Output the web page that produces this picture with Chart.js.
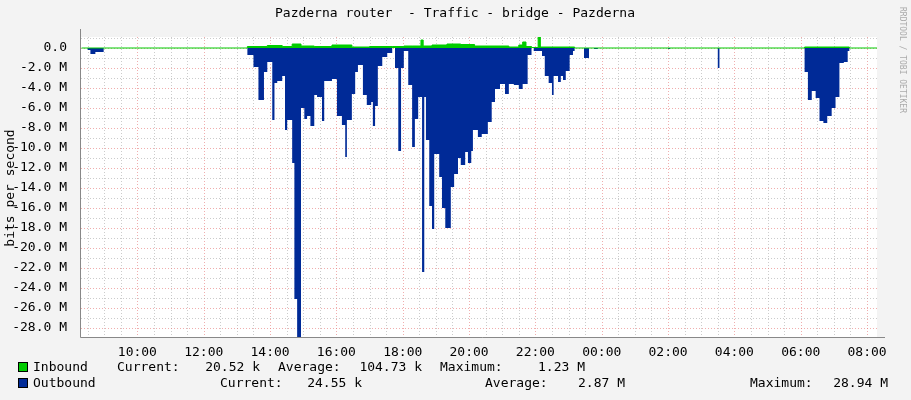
<!DOCTYPE html>
<html><head><meta charset="utf-8">
<script src="https://cdn.jsdelivr.net/npm/chart.js@4"></script>
<style>html,body{margin:0;padding:0;background:#f3f3f3}#w{width:911px;height:400px;position:relative}</style>
</head><body><div id="w"><canvas id="c" width="911" height="400"></canvas></div>
<script>
const title = "Pazderna router  - Traffic - bridge - Pazderna";
const xTickLabels = ["10:00","12:00","14:00","16:00","18:00","20:00","22:00","00:00","02:00","04:00","06:00","08:00"];
const yTickValues = [0,-2,-4,-6,-8,-10,-12,-14,-16,-18,-20,-22,-24,-26,-28];
const outTimes = ["08:19","08:30","08:35","08:44","08:59","13:19","13:30","13:39","13:49","13:55","14:04","14:08","14:13","14:22","14:27","14:31","14:40","14:44","14:49","14:56","15:02","15:07","15:13","15:20","15:25","15:34","15:38","15:52","16:01","16:10","16:16","16:19","16:28","16:34","16:39","16:48","16:55","17:03","17:06","17:10","17:15","17:23","17:32","17:41","17:46","17:52","17:57","18:02","18:10","18:17","18:22","18:28","18:35","18:39","18:42","18:48","18:53","18:57","19:06","19:11","19:17","19:27","19:33","19:40","19:45","19:53","19:58","20:04","20:07","20:16","20:23","20:34","20:41","20:47","20:56","21:05","21:12","21:21","21:30","21:37","21:46","21:53","21:57","22:12","22:17","22:24","22:30","22:33","22:41","22:46","22:50","22:55","23:02","23:08","23:11","23:28","23:37","23:46","23:53","02:00","02:04","03:30","03:33","06:07","06:13","06:20","06:27","06:34","06:41","06:48","06:56","07:03","07:10","07:18","07:25","07:28","08:19"];
const outValues = [0,-0.2,-0.6,-0.4,0,-0.7,-1.9,-5.2,-2.4,-1.4,-7.2,-3.5,-3.3,-2.8,-8.2,-7.2,-11.5,-25.1,-28.9,-6.0,-7.1,-6.8,-7.8,-4.7,-4.9,-7.3,-3.3,-3.1,-6.8,-7.7,-10.9,-7.2,-4.6,-2.4,-1.7,-4.7,-5.7,-5.4,-7.8,-5.8,-1.8,-0.9,-0.5,0,-2.0,-10.3,-2.0,-0.3,-3.7,-9.9,-7.1,-4.9,-22.4,-4.9,-9.2,-15.8,-18.1,-10.6,-12.9,-16.0,-18.0,-13.9,-12.6,-11.0,-11.7,-10.4,-11.5,-10.3,-8.2,-8.9,-8.6,-7.4,-5.4,-4.1,-3.6,-4.6,-3.6,-3.7,-4.1,-3.6,-0.7,0,-0.3,-0.8,-2.8,-3.5,-4.7,-2.8,-3.4,-2.8,-3.2,-2.3,-0.7,-0.3,0,-1.0,0,-0.1,0,-0.1,0,-2.0,0,-2.4,-5.2,-4.3,-5.0,-7.3,-7.5,-6.8,-6.0,-4.9,-1.5,-1.4,-0.3,0,0];
const inTimes = ["08:19","13:19","13:55","14:22","14:40","14:56","15:20","15:52","16:28","17:00","17:41","18:02","18:17","18:33","18:37","18:53","19:20","19:45","20:10","21:12","21:30","21:37","21:43","21:53","22:05","22:09","22:30","23:11","06:07","07:28","08:19"];
const inValues = [0,0.15,0.25,0.15,0.4,0.2,0.15,0.3,0.1,0.15,0.15,0.2,0.2,0.8,0.2,0.3,0.4,0.35,0.2,0.1,0.3,0.6,0.15,0.05,1.23,0.1,0.1,0,0.1,0,0];
const legendRows = [
 ["Inbound","Current:","20.52 k","Average:","104.73 k","Maximum:","1.23 M"],
 ["Outbound","Current:","24.55 k","Average:","2.87 M","Maximum:","28.94 M"]];

const START = 8*60+19;
function toMin(t, isEnd){const [h,m]=t.split(":").map(Number);let v=h*60+m;if(v<START||(isEnd&&v===START))v+=1440;return v;}
function series(times, vals){return times.map((t,i)=>({x:toMin(t,i===times.length-1),y:vals[i]}));}
const X0=START-1, X1=START+1439;
const FONT="'DejaVu Sans Mono', monospace";

const rrdPlugin={id:'rrd',
 beforeDraw(ch){const c=ch.ctx;c.save();c.fillStyle='#f3f3f3';c.fillRect(0,0,911,400);
  const a=ch.chartArea;c.fillStyle='#fff';c.fillRect(a.left,a.top,a.right-a.left,a.bottom-a.top);c.restore();},
 beforeDatasetsDraw(ch){const c=ch.ctx,a=ch.chartArea,xs=ch.scales.x,ys=ch.scales.y;c.save();c.lineWidth=1;c.setLineDash([1,2]);
  for(let m=600-90;m<=X1;m+=30){const px=Math.round(xs.getPixelForValue(m))+0.5;if(px<a.left||px>a.right)continue;
   c.strokeStyle=((m-600)%120===0)?'rgba(230,120,120,0.6)':'rgba(170,170,170,0.6)';c.beginPath();c.moveTo(px,a.top);c.lineTo(px,a.bottom);c.stroke();}
  for(let v=1;v>=-28;v-=1){const py=Math.round(ys.getPixelForValue(v))+0.5;
   c.strokeStyle=(v%2===0)?'rgba(230,120,120,0.6)':'rgba(170,170,170,0.6)';c.beginPath();c.moveTo(a.left,py);c.lineTo(a.right,py);c.stroke();}
  c.restore();},
 afterDraw(ch){const c=ch.ctx,a=ch.chartArea;c.save();
  c.strokeStyle='#888';c.lineWidth=1;c.beginPath();c.moveTo(a.left-0.5,a.top-8);c.lineTo(a.left-0.5,a.bottom+0.5);c.lineTo(a.right+8,a.bottom+0.5);c.stroke();
  c.fillStyle='#000';c.font="13px "+FONT;c.textAlign='center';c.textBaseline='middle';c.fillText(title,455,14);
  c.save();c.translate(11,188);c.rotate(-Math.PI/2);c.fillText('bits per second',0,0);c.restore();
  c.save();c.fillStyle='#aaa';c.font="8px "+FONT;c.translate(902,60);c.rotate(Math.PI/2);c.fillText('RRDTOOL / TOBI OETIKER',0,0);c.restore();
  c.font="13px "+FONT;
  const cols=['#00cc00','#002a97'];
  const ax=[[33,117,'r:260',278,'r:422',440,'r:585'],[33,220,'r:362',485,'r:625',750,'r:888']];
  legendRows.forEach((row,i)=>{const y=368+i*16;c.fillStyle=cols[i];c.fillRect(18,y-6,10,10);c.strokeStyle='#000';c.strokeRect(18.5,y-5.5,9,9);
   c.fillStyle='#000';ax[i].forEach((p,j)=>{if(typeof p==='string'){c.textAlign='right';c.fillText(row[j],+p.slice(2),y);}else{c.textAlign='left';c.fillText(row[j],p,y);}});});
  c.restore();}
};

new Chart(document.getElementById('c'),{type:'line',
 data:{datasets:[
  {data:series(outTimes,outValues),stepped:'before',fill:'origin',backgroundColor:'#002a97',borderWidth:0,pointRadius:0,order:2},
  {data:series(inTimes,inValues),stepped:'before',fill:'origin',backgroundColor:'#00cc00',borderColor:'#00cc00',borderWidth:1,pointRadius:0,order:1}
 ]},
 plugins:[rrdPlugin],
 options:{responsive:false,animation:false,devicePixelRatio:1,
  layout:{padding:{top:37,right:34,left:0,bottom:0}},
  plugins:{legend:{display:false},tooltip:{enabled:false}},
  scales:{
   x:{type:'linear',min:X0,max:X1,grid:{display:false},border:{display:false},
    afterFit(s){s.height=63;},
    afterBuildTicks(s){s.ticks=xTickLabels.map((l,i)=>({value:600+i*120,label:l}));},
    ticks:{autoSkip:false,maxRotation:0,color:'#000',font:{family:FONT,size:13},padding:0,callback(v,i){return xTickLabels[i];}}},
   y:{type:'linear',min:-28.9,max:1.1,grid:{display:false},border:{display:false},
    afterFit(s){s.width=81;},
    afterBuildTicks(s){s.ticks=yTickValues.map(v=>({value:v}));},
    ticks:{color:'#000',font:{family:FONT,size:13},padding:6,callback(v){return v===0?'0.0':v.toFixed(1)+' M';}}}
  }}});
</script></body></html>
